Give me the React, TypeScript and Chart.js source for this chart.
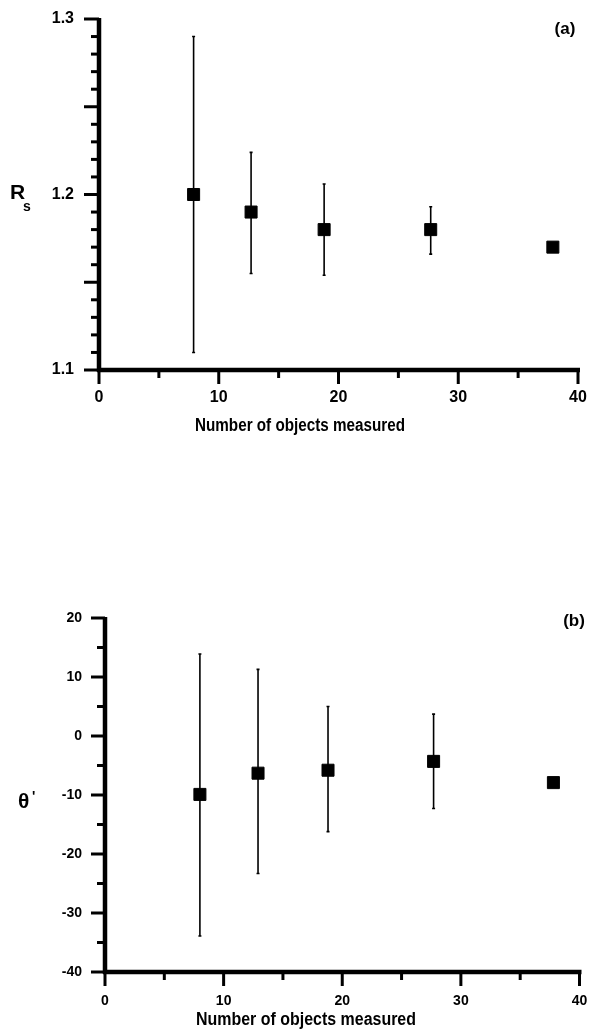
import React, { useEffect, useRef } from "react";
import { Chart, registerables } from "chart.js";

Chart.register(...registerables);

// ---------- data ----------
const xTickValues = [0, 10, 20, 30, 40];
const xTickLabels = ["0", "10", "20", "30", "40"];
const xTitle = "Number of objects measured";

// panel (a)
const aX = [7.9, 12.7, 18.8, 27.7, 37.9];
const aY = [1.2, 1.19, 1.18, 1.18, 1.17];
const aHigh: (number | null)[] = [1.29, 1.224, 1.206, 1.193, null];
const aLow: (number | null)[] = [1.11, 1.155, 1.154, 1.166, null];
const aYTickValues = [1.1, 1.2, 1.3];
const aYTickLabels = ["1.1", "1.2", "1.3"];

// panel (b)
const bX = [8.0, 12.9, 18.8, 27.7, 37.8];
const bY = [-9.9, -6.3, -5.8, -4.3, -7.9];
const bHigh: (number | null)[] = [13.9, 11.3, 5.0, 3.7, null];
const bLow: (number | null)[] = [-33.9, -23.3, -16.2, -12.3, null];
const bYTickValues = [20, 10, 0, -10, -20, -30, -40];
const bYTickLabels = ["20", "10", "0", "-10", "-20", "-30", "-40"];

const FONT = "'Liberation Sans', Arial, Helvetica, sans-serif";

type PanelCfg = {
  top: number;
  h: number;
  area: { left: number; right: number; top: number; bottom: number };
  xs: number[];
  ys: number[];
  hi: (number | null)[];
  lo: (number | null)[];
  yMin: number;
  yMax: number;
  yMinor: number;
  yMajorEvery: number;
  yTickValues: number[];
  yTickLabels: string[];
  tickFont: number;
  xPad: number;
  yPad: number;
  yMajorLen: number;
  yMinorLen: number;
  label: string;
  labelX: number;
  labelY: number;
  titleX: number;
  titleY: number;
  titleW: number;
  drawYTitle: (ctx: CanvasRenderingContext2D) => void;
};

const panelA: PanelCfg = {
  top: 0,
  h: 445,
  area: { left: 99, right: 578, top: 19, bottom: 370 },
  xs: aX,
  ys: aY,
  hi: aHigh,
  lo: aLow,
  yMin: 1.1,
  yMax: 1.3,
  yMinor: 0.01,
  yMajorEvery: 5,
  yTickValues: aYTickValues,
  yTickLabels: aYTickLabels,
  tickFont: 16,
  xPad: 18,
  yPad: 25,
  yMajorLen: 15,
  yMinorLen: 8,
  label: "(a)",
  labelX: 565,
  labelY: 29,
  titleX: 300,
  titleY: 431,
  titleW: 210,
  drawYTitle: (ctx) => {
    ctx.textAlign = "left";
    ctx.textBaseline = "alphabetic";
    ctx.font = `bold 21px ${FONT}`;
    ctx.fillText("R", 10, 199);
    ctx.font = `bold 14px ${FONT}`;
    ctx.fillText("s", 23, 211);
  },
};

const panelB: PanelCfg = {
  top: 480,
  h: 556,
  area: { left: 105, right: 584, top: 138, bottom: 492 },
  xs: bX,
  ys: bY,
  hi: bHigh,
  lo: bLow,
  yMin: -40,
  yMax: 20,
  yMinor: 5,
  yMajorEvery: 2,
  yTickValues: bYTickValues,
  yTickLabels: bYTickLabels,
  tickFont: 14,
  xPad: 21,
  yPad: 23,
  yMajorLen: 14,
  yMinorLen: 8,
  label: "(b)",
  labelX: 574,
  labelY: 141,
  titleX: 306,
  titleY: 545,
  titleW: 220,
  drawYTitle: (ctx) => {
    ctx.textAlign = "left";
    ctx.textBaseline = "alphabetic";
    ctx.font = `bold 21px ${FONT}`;
    ctx.fillText("θ", 18, 328);
    ctx.font = `bold 14px ${FONT}`;
    ctx.fillText("'", 32, 321);
  },
};

function Panel({ cfg }: { cfg: PanelCfg }) {
  const ref = useRef<HTMLCanvasElement>(null);

  useEffect(() => {
    const canvas = ref.current;
    if (!canvas) return;
    const W = 589;
    const { area } = cfg;

    const decor = {
      id: "decor",
      beforeDatasetsDraw(chart: any) {
        const { ctx, scales } = chart;
        const x = scales.x;
        const y = scales.y;
        ctx.save();
        ctx.strokeStyle = "#000";
        ctx.lineWidth = 1.6;
        cfg.xs.forEach((xv, i) => {
          const h = cfg.hi[i];
          const l = cfg.lo[i];
          if (h == null || l == null) return;
          const px = x.getPixelForValue(xv);
          const ph = y.getPixelForValue(h);
          const pl = y.getPixelForValue(l);
          ctx.beginPath();
          ctx.moveTo(px, ph);
          ctx.lineTo(px, pl);
          ctx.stroke();
          ctx.beginPath();
          ctx.moveTo(px - 1.5, ph);
          ctx.lineTo(px + 1.5, ph);
          ctx.moveTo(px - 1.5, pl);
          ctx.lineTo(px + 1.5, pl);
          ctx.stroke();
        });
        ctx.restore();
      },
      afterDraw(chart: any) {
        const { ctx, chartArea, scales } = chart;
        const x = scales.x;
        const y = scales.y;
        const { left, right, top, bottom } = chartArea;
        ctx.save();
        ctx.strokeStyle = "#000";
        ctx.fillStyle = "#000";
        ctx.lineCap = "butt";
        // axis lines
        ctx.lineWidth = 4.5;
        ctx.beginPath();
        ctx.moveTo(left, top - 1);
        ctx.lineTo(left, bottom + 2);
        ctx.stroke();
        ctx.beginPath();
        ctx.moveTo(left - 2, bottom);
        ctx.lineTo(right + 2, bottom);
        ctx.stroke();
        // y ticks
        ctx.lineWidth = 3;
        const nY = Math.round((cfg.yMax - cfg.yMin) / cfg.yMinor);
        for (let k = 0; k <= nY; k++) {
          const v = cfg.yMin + k * cfg.yMinor;
          const major = k % cfg.yMajorEvery === 0;
          const py = y.getPixelForValue(v);
          const len = major ? cfg.yMajorLen : cfg.yMinorLen;
          ctx.beginPath();
          ctx.moveTo(left, py);
          ctx.lineTo(left - len, py);
          ctx.stroke();
        }
        // x ticks
        for (let v = 0; v <= 40; v += 5) {
          const major = v % 10 === 0;
          const px = x.getPixelForValue(v);
          ctx.beginPath();
          ctx.moveTo(px, bottom);
          ctx.lineTo(px, bottom + (major ? 14 : 8));
          ctx.stroke();
        }
        // panel label
        ctx.font = `bold 17px ${FONT}`;
        ctx.textAlign = "center";
        ctx.textBaseline = "middle";
        ctx.fillText(cfg.label, cfg.labelX, cfg.labelY);
        // y title
        cfg.drawYTitle(ctx);
        // x title (tight heavy look)
        ctx.font = `bold 18px ${FONT}`;
        const mw = ctx.measureText(xTitle).width;
        const sx = cfg.titleW / mw;
        ctx.save();
        ctx.translate(cfg.titleX, cfg.titleY);
        ctx.scale(sx, 1);
        ctx.textAlign = "center";
        ctx.textBaseline = "alphabetic";
        ctx.fillText(xTitle, 0, 0);
        ctx.restore();
        ctx.restore();
      },
    };

    const chart = new Chart(canvas, {
      type: "scatter",
      data: {
        datasets: [
          {
            data: cfg.xs.map((xv, i) => ({ x: xv, y: cfg.ys[i] })),
            pointStyle: "rect",
            pointRadius: 8.5,
            pointHoverRadius: 8.5,
            backgroundColor: "#000",
            borderColor: "#000",
            borderWidth: 1,
          },
        ],
      },
      options: {
        animation: false,
        responsive: false,
        maintainAspectRatio: false,
        events: [],
        layout: {
          padding: { left: 0, top: area.top, right: W - area.right, bottom: 0 },
        },
        plugins: {
          legend: { display: false },
          tooltip: { enabled: false },
          title: { display: false },
        },
        scales: {
          x: {
            type: "linear",
            position: "bottom",
            min: 0,
            max: 40,
            grid: { display: false, drawTicks: false, tickLength: 0 },
            border: { display: false },
            afterFit: (s: any) => {
              s.height = cfg.h - area.bottom;
              s.paddingLeft = 0;
              s.paddingRight = 0;
            },
            afterBuildTicks: (s: any) => {
              s.ticks = xTickValues.map((v) => ({ value: v }));
            },
            ticks: {
              autoSkip: false,
              maxRotation: 0,
              padding: cfg.xPad,
              color: "#000",
              font: { family: FONT, size: cfg.tickFont, weight: "bold" },
              callback: (v: any) => {
                const i = xTickValues.indexOf(Number(v));
                return i >= 0 ? xTickLabels[i] : "";
              },
            },
          },
          y: {
            type: "linear",
            position: "left",
            min: cfg.yMin,
            max: cfg.yMax,
            grid: { display: false, drawTicks: false, tickLength: 0 },
            border: { display: false },
            afterFit: (s: any) => {
              s.width = area.left;
              s.paddingTop = 0;
              s.paddingBottom = 0;
            },
            afterBuildTicks: (s: any) => {
              s.ticks = cfg.yTickValues.map((v) => ({ value: v }));
            },
            ticks: {
              autoSkip: false,
              padding: cfg.yPad,
              color: "#000",
              font: { family: FONT, size: cfg.tickFont, weight: "bold" },
              callback: (v: any) => {
                const i = cfg.yTickValues.findIndex((t) => Math.abs(t - Number(v)) < 1e-9);
                return i >= 0 ? cfg.yTickLabels[i] : "";
              },
            },
          },
        },
      },
      plugins: [decor],
    });

    return () => chart.destroy();
  }, [cfg]);

  return (
    <canvas
      ref={ref}
      width={589}
      height={cfg.h}
      style={{ position: "absolute", left: 0, top: cfg.top, display: "block" }}
    />
  );
}

export default function App() {
  return (
    <div
      style={{
        position: "absolute",
        left: 0,
        top: 0,
        width: 589,
        height: 1036,
        background: "#fff",
        overflow: "hidden",
      }}
    >
      <Panel cfg={panelA} />
      <Panel cfg={panelB} />
    </div>
  );
}
